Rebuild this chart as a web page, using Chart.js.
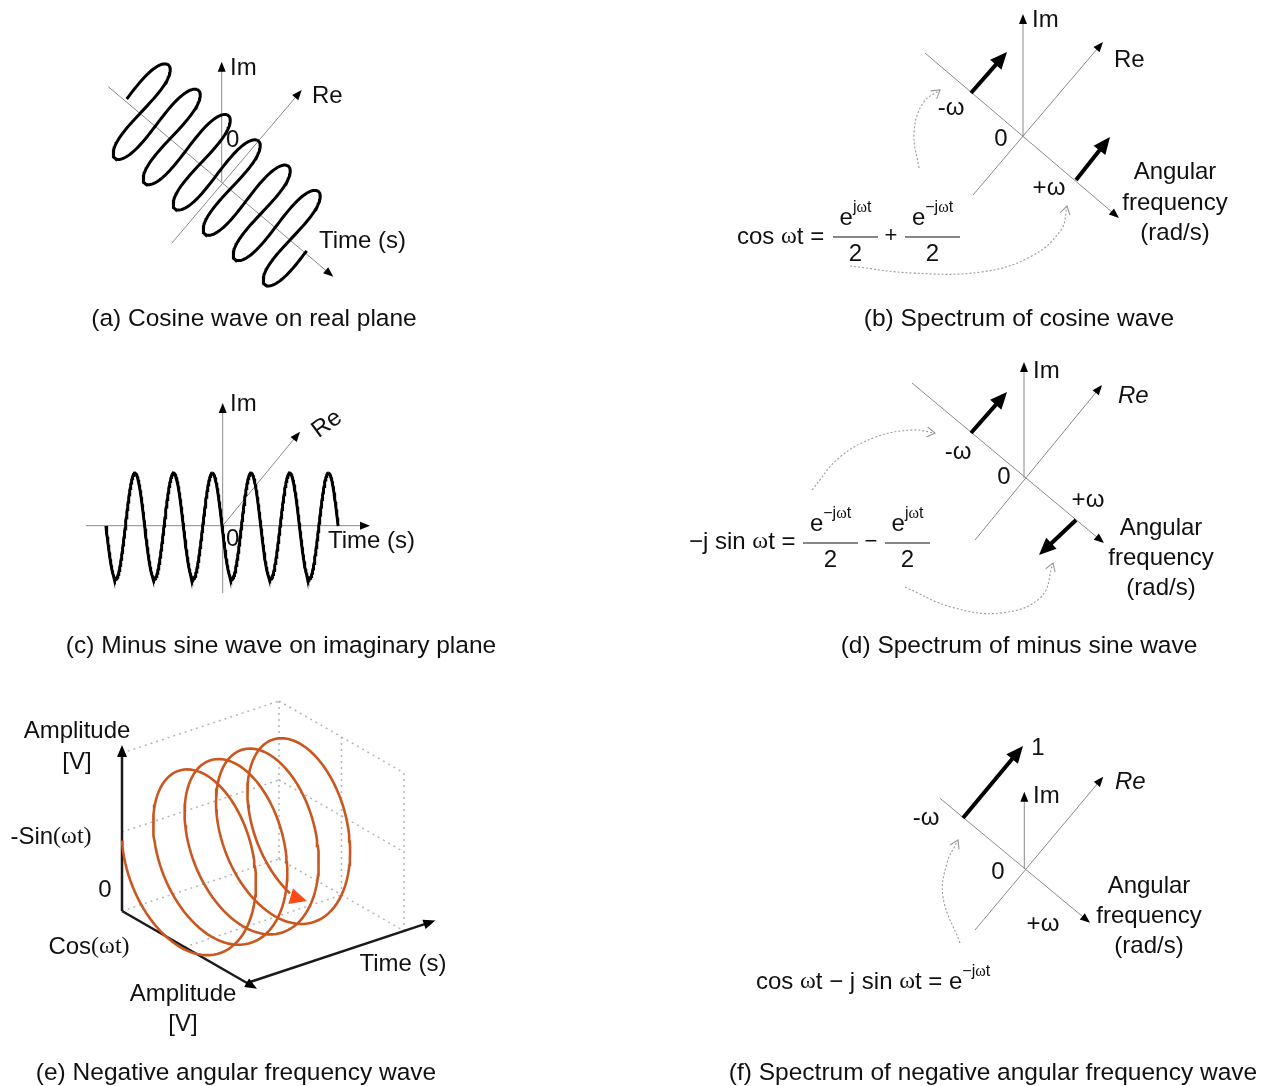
<!DOCTYPE html>
<html>
<head>
<meta charset="utf-8">
<script src="https://cdn.jsdelivr.net/npm/chart.js@4.4.0/dist/chart.umd.min.js"></script>
<style>
  html, body { margin: 0; padding: 0; background: #fff; }
  canvas { display: block; }
</style>
</head>
<body>
<canvas id="diagram" width="1272" height="1086"></canvas>
<script>
const W = 1272, H = 1086;
const SANS = '"Liberation Sans", Arial, Helvetica, sans-serif';
const SERIF = '"Liberation Serif", "Times New Roman", serif';

// ---- text ----
const captions = [
  '(a) Cosine wave on real plane',
  '(b) Spectrum of cosine wave',
  '(c) Minus sine wave on imaginary plane',
  '(d) Spectrum of minus sine wave',
  '(e) Negative angular frequency wave',
  '(f) Spectrum of negative angular frequency wave'
];
const axisNames = ['Im', 'Re', 'Time (s)', '0'];
const freqMarks = ['-ω', '0', '+ω'];
const freqTitle = ['Angular', 'frequency', '(rad/s)'];
const ampTitle = ['Amplitude', '[V]'];
const peakValue = '1';

// ---- curve values ----
const cosCycles = 6;          // (a) cycles along the time axis
const sinCycles = 6;          // (c) cycles of -sin
const helixTurns = 4.22;      // (e) turns of the spiral
const helixPitch = 0.2;       // (e) box lengths per turn
const helixRadius = 0.5;      // (e) radius, box units

// ---- layout (pixels) ----
const captionPos = [[254, 319], [1019, 319], [281, 646], [1019, 646], [236, 1073], [993, 1073]];

// wave (a): start on time axis, one-cycle step, peak vector, rounding of the tips seen in perspective
const cosStart = [126.7, 99], cosStep = [30, 25.3], cosAmp = [34.2, -40.3], cosRound = -4.5;
// wave (c)
const sinStart = [106, 526], sinStep = [38.7, 0], sinAmp = [0, -53];

// thin axes [x0, y0, x1(tip), y1(tip)]
const axesA = [[221.7, 181.7, 221.7, 61.7], [171.7, 243.3, 301.7, 90], [108.3, 86.7, 333.3, 276.7]];
const axesC = [[86, 525.7, 370, 525.7], [222.7, 593, 222.7, 403], [222.7, 525.7, 300, 431.7]];
const axesB = [[1023, 137, 1023, 14], [973, 195, 1103, 42], [925, 53, 1119, 218]];
const axesD = [[1024, 478, 1024, 362], [975, 540, 1102, 385], [912, 383, 1104, 543]];
const axesF = [[1024.3, 868.3, 1024.3, 791.7], [975, 930, 1103.3, 776.7], [940, 798.3, 1090, 922.7]];
// spectrum lines (thick arrows)
const spikes = [[971, 93, 1007, 52], [1076, 180, 1110, 137], [971, 433, 1007, 392], [1076, 520, 1039, 555], [963, 818, 1023, 746]];
// dotted pointers
const links = [
  [[850, 266], [912, 273], [981, 272], [1030, 257], [1061, 230], [1067, 206]],
  [[919, 168], [914, 133], [923, 103], [940, 90]],
  [[812, 490], [840, 457], [876, 437], [912, 430], [935, 433]],
  [[905, 587], [951, 607], [1001, 613], [1041, 597], [1053, 563]],
  [[960, 943], [943, 897], [947, 863], [958, 840]]
];
// 3D box of (e)
const boxO = [122, 911], boxT = [157, -52], boxC = [125, 72], boxS = [0, -158];
const boxEdges = [
  [[0, 0, 1], [1, 0, 1]], [[1, 0, 0], [1, 0, 1]], [[0, 0, 0], [1, 0, 0]], [[0, 0, 0.5], [1, 0, 0.5]],
  [[1, 0, 1], [1, 1, 1]], [[1, 1, 1], [1, 1, 0]], [[1, 0, 0], [1, 1, 0]], [[1, 0, 0.5], [1, 1, 0.5]],
  [[1, 0.5, 0], [1, 0.5, 1]], [[0, 0.5, 0], [1, 0.5, 0]]
];
// helix drawn with a slightly flatter circle than the box
const helixC = [118, 55], helixS = [0, -172];

const F = {
  label: `24px ${SANS}`,
  italic: `italic 24px ${SANS}`,
  caption: `24.5px ${SANS}`,
  serif: `24px ${SERIF}`,
  sup: `16px ${SANS}`,
  supSerif: `16px ${SERIF}`,
  op: `22px ${SANS}`
};

function proj(t, c, s) {
  return {
    x: boxO[0] + t * boxT[0] + c * boxC[0] + s * boxS[0],
    y: boxO[1] + t * boxT[1] + c * boxC[1] + s * boxS[1]
  };
}

function wave(start, step, amp, cycles, fn, round) {
  const pts = [];
  const per = 120;
  const L = Math.hypot(step[0], step[1]);
  for (let i = 0; i <= cycles * per; i++) {
    const k = i / per, th = k * 2 * Math.PI, v = fn(th);
    const r = (round || 0) * Math.sin(2 * th) / L;
    pts.push({ x: start[0] + k * step[0] + r * step[0] + v * amp[0],
               y: start[1] + k * step[1] + r * step[1] + v * amp[1] });
  }
  return pts;
}

function arrowLine(a, color, width, len, half, headColor, order) {
  const dx = a[2] - a[0], dy = a[3] - a[1], L = Math.hypot(dx, dy);
  const cut = width > 2 ? len * 0.75 : len * 0.5;
  return {
    data: [{ x: a[0], y: a[1] }, { x: a[2] - dx / L * cut, y: a[3] - dy / L * cut }],
    showLine: true, borderColor: color, borderWidth: width, pointRadius: 0, order,
    head: { from: [a[0], a[1]], tip: [a[2], a[3]], len, half, color: headColor }
  };
}

const datasets = [];
// waves
datasets.push({ data: wave(cosStart, cosStep, cosAmp, cosCycles, Math.sin, cosRound), showLine: true,
  borderColor: '#000', borderWidth: 3, pointRadius: 0, order: 0 });
datasets.push({ data: wave(sinStart, sinStep, sinAmp, sinCycles, th => -Math.sin(th)), showLine: true,
  borderColor: '#000', borderWidth: 3, pointRadius: 0, order: 0 });
// thin axes
[axesA, axesC, axesB, axesD, axesF].forEach(group => group.forEach(a => {
  datasets.push(arrowLine(a, '#8a8a8a', 1, 10, 4, '#000', 3));
}));
// spectrum arrows
spikes.forEach(a => datasets.push(arrowLine(a, '#000', 4, 17, 7.5, '#000', 1)));
// dotted pointers
links.forEach(p => {
  const n = p.length;
  datasets.push({
    data: p.map(q => ({ x: q[0], y: q[1] })), showLine: true, borderColor: '#9a9a9a', borderWidth: 1.1,
    borderDash: [2, 2], tension: 0.4, pointRadius: 0, order: 2,
    head: { from: p[n - 2], tip: p[n - 1], len: 8, half: 5, color: '#9a9a9a', open: true }
  });
});
// (e) box
boxEdges.forEach(e => {
  datasets.push({ data: [proj(...e[0]), proj(...e[1])], showLine: true, borderColor: '#b5b5b5',
    borderWidth: 1.5, borderDash: [2, 4], pointRadius: 0, order: 4 });
});
// (e) solid axes
const eO = proj(0, 0, 0), eTop = proj(0, 0, 1.05), eCos = proj(0, 1.08, 0), eT0 = proj(0, 1, 0), eT1 = proj(1.2, 1, 0);
datasets.push(arrowLine([eO.x, eO.y, eTop.x, eTop.y], '#1a1a1a', 2.5, 12, 5, '#000', 1));
datasets.push(arrowLine([eO.x, eO.y, eCos.x, eCos.y], '#1a1a1a', 2.5, 12, 5, '#000', 1));
datasets.push(arrowLine([eT0.x, eT0.y, eT1.x, eT1.y], '#1a1a1a', 2.5, 12, 5, '#000', 1));
// (e) helix around the box centre line
const helix = [];
const per = 96;
const hc0 = proj(0, 0.5, 0.5);
hc0.x = 122 + helixRadius * helixC[0];
for (let i = 0; i <= Math.round(helixTurns * per); i++) {
  const phi = i / per * 2 * Math.PI, t = helixPitch * i / per;
  const cc = -helixRadius * Math.cos(phi), ss = -helixRadius * Math.sin(phi);
  helix.push({
    x: hc0.x + t * boxT[0] + cc * helixC[0] + ss * helixS[0],
    y: hc0.y + t * boxT[1] + cc * helixC[1] + ss * helixS[1]
  });
}
const hn = helix.length;
const hTip = [helix[hn - 1].x + 5, helix[hn - 1].y - 2];
datasets.push({ data: helix.slice(0, hn - 3), showLine: true, borderColor: '#c9571f', borderWidth: 2.6,
  pointRadius: 0, order: 0,
  head: { from: [hTip[0] - 10, hTip[1] - 3], tip: hTip, len: 17, half: 8, color: '#ff4a17' } });

const arrowPlugin = {
  id: 'arrowHeads',
  afterDatasetsDraw(chart) {
    const ctx = chart.ctx, sx = chart.scales.x, sy = chart.scales.y;
    chart.data.datasets.forEach(ds => {
      const h = ds.head;
      if (!h) return;
      const tx = sx.getPixelForValue(h.tip[0]), ty = sy.getPixelForValue(h.tip[1]);
      const fx = sx.getPixelForValue(h.from[0]), fy = sy.getPixelForValue(h.from[1]);
      const ang = Math.atan2(ty - fy, tx - fx);
      ctx.save();
      ctx.translate(tx, ty);
      ctx.rotate(ang);
      ctx.beginPath();
      if (h.open) {
        ctx.moveTo(-h.len, -h.half); ctx.lineTo(0, 0); ctx.lineTo(-h.len, h.half);
        ctx.strokeStyle = h.color; ctx.lineWidth = 1.1; ctx.stroke();
      } else {
        ctx.moveTo(0, 0); ctx.lineTo(-h.len, -h.half); ctx.lineTo(-h.len, h.half); ctx.closePath();
        ctx.fillStyle = h.color; ctx.fill();
      }
      ctx.restore();
    });
  }
};

function runWidth(ctx, runs) {
  let w = 0;
  runs.forEach(r => { ctx.font = F[r[1]]; w += ctx.measureText(r[0]).width; });
  return w;
}
function drawRuns(ctx, x, y, runs, align) {
  let cx = align === 'center' ? x - runWidth(ctx, runs) / 2 : x;
  ctx.textAlign = 'left';
  runs.forEach(r => {
    ctx.font = F[r[1]];
    ctx.fillText(r[0], cx, y + (r[2] || 0));
    cx += ctx.measureText(r[0]).width;
  });
}
function drawFrac(ctx, cx, y, half, num) {
  drawRuns(ctx, cx, y - 18, num, 'center');
  ctx.beginPath(); ctx.moveTo(cx - half, y + 1); ctx.lineTo(cx + half, y + 1);
  ctx.strokeStyle = '#111'; ctx.lineWidth = 1.2; ctx.stroke();
  ctx.font = F.label; ctx.textAlign = 'center'; ctx.fillText('2', cx, y + 18);
}

const ePos = [['e', 'label'], ['j', 'sup', -10], ['ω', 'supSerif', -10], ['t', 'sup', -10]];
const eNeg = [['e', 'label'], ['−j', 'sup', -10], ['ω', 'supSerif', -10], ['t', 'sup', -10]];

const textPlugin = {
  id: 'texts',
  afterDatasetsDraw(chart) {
    const ctx = chart.ctx;
    ctx.save();
    ctx.fillStyle = '#111';
    ctx.textBaseline = 'middle';
    const put = (s, x, y, align, font) => { ctx.font = font || F.label; ctx.textAlign = align; ctx.fillText(s, x, y); };

    captions.forEach((c, i) => put(c, captionPos[i][0], captionPos[i][1], 'center', F.caption));

    // (a)
    put(axisNames[0], 230, 68, 'left');
    put(axisNames[1], 312, 96, 'left');
    put(axisNames[3], 226, 140, 'left');
    put(axisNames[2], 319, 241, 'left');
    // (c)
    put(axisNames[0], 230, 404, 'left');
    put(axisNames[3], 226, 539, 'left');
    put(axisNames[2], 328, 541, 'left');
    ctx.save(); ctx.translate(327, 424); ctx.rotate(-36 * Math.PI / 180);
    put(axisNames[1], 0, 0, 'center'); ctx.restore();
    // (b)
    put(axisNames[0], 1032, 20, 'left');
    put(axisNames[1], 1114, 60, 'left');
    [[951, 108], [1001, 139], [1049, 188]].forEach((p, i) => put(freqMarks[i], p[0], p[1], 'center'));
    [172, 203, 233].forEach((y, i) => put(freqTitle[i], 1175, y, 'center'));
    // (d)
    put(axisNames[0], 1033, 371, 'left');
    put(axisNames[1], 1118, 396, 'left', F.italic);
    [[958, 452], [1004, 477], [1088, 500]].forEach((p, i) => put(freqMarks[i], p[0], p[1], 'center'));
    [528, 558, 588].forEach((y, i) => put(freqTitle[i], 1161, y, 'center'));
    // (f)
    put(peakValue, 1038, 748, 'center');
    put(axisNames[1], 1115, 782, 'left', F.italic);
    put(axisNames[0], 1033, 796, 'left');
    [[926, 818], [998, 872], [1043, 924]].forEach((p, i) => put(freqMarks[i], p[0], p[1], 'center'));
    [886, 916, 946].forEach((y, i) => put(freqTitle[i], 1149, y, 'center'));
    // (e)
    put(ampTitle[0], 77, 731, 'center'); put(ampTitle[1], 77, 762, 'center');
    drawRuns(ctx, 51, 837, [['-Sin', 'label'], ['(ωt)', 'serif']], 'center');
    put(axisNames[3], 105, 890, 'center');
    drawRuns(ctx, 89, 947, [['Cos', 'label'], ['(ωt)', 'serif']], 'center');
    put(axisNames[2], 403, 964, 'center');
    put(ampTitle[0], 183, 994, 'center'); put(ampTitle[1], 183, 1024, 'center');

    // equations
    drawRuns(ctx, 737, 237, [['cos ', 'label'], ['ω', 'serif'], ['t =', 'label']], 'left');
    drawFrac(ctx, 855.5, 236, 22.5, ePos);
    put('+', 891, 236, 'center', F.op);
    drawFrac(ctx, 932.5, 236, 27.5, eNeg);

    drawRuns(ctx, 689, 542, [['−j sin ', 'label'], ['ω', 'serif'], ['t =', 'label']], 'left');
    drawFrac(ctx, 830.5, 542, 27.5, eNeg);
    put('−', 871, 542, 'center', F.op);
    drawFrac(ctx, 907.5, 542, 22.5, ePos);

    drawRuns(ctx, 756, 982, [['cos ', 'label'], ['ω', 'serif'], ['t − j sin ', 'label'], ['ω', 'serif'],
      ['t = e', 'label'], ['−j', 'sup', -10], ['ω', 'supSerif', -10], ['t', 'sup', -10]], 'left');
    ctx.restore();
  }
};

new Chart(document.getElementById('diagram').getContext('2d'), {
  type: 'scatter',
  data: { datasets },
  options: {
    responsive: false,
    animation: false,
    layout: { padding: 0 },
    scales: {
      x: { type: 'linear', min: 0, max: W, display: false },
      y: { type: 'linear', min: 0, max: H, reverse: true, display: false }
    },
    plugins: { legend: { display: false }, tooltip: { enabled: false } },
    elements: { point: { radius: 0 }, line: { tension: 0 } }
  },
  plugins: [arrowPlugin, textPlugin]
});
</script>
</body>
</html>
